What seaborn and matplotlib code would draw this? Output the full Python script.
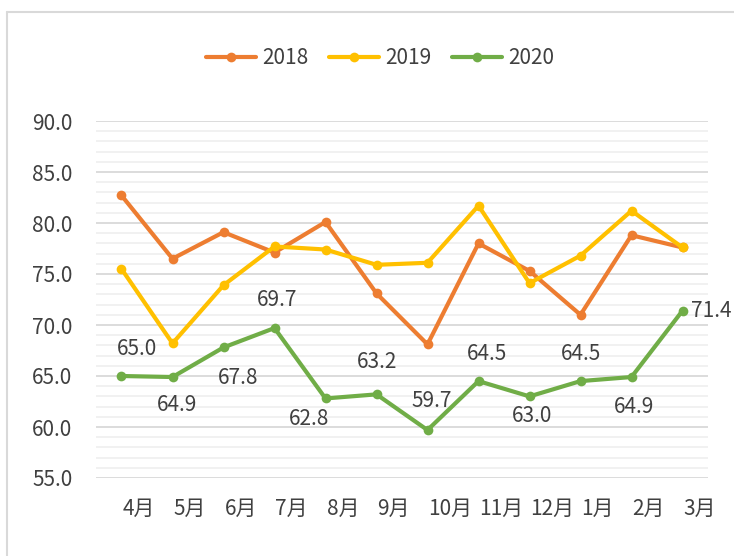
import matplotlib
matplotlib.use("Agg")
import matplotlib.pyplot as plt
import matplotlib.transforms as mtransforms
from matplotlib.lines import Line2D
from matplotlib.ticker import MultipleLocator
import pandas as pd
import seaborn as sns

# ---- data -------------------------------------------------------------
months = ["4月", "5月", "6月", "7月", "8月", "9月", "10月", "11月", "12月", "1月", "2月", "3月"]
years = ["2018", "2019", "2020"]
v2018 = [82.7, 76.5, 79.1, 77.1, 80.1, 73.1, 68.1, 78.0, 75.3, 71.0, 78.8, 77.6]
v2019 = [75.5, 68.2, 73.9, 77.7, 77.4, 75.9, 76.1, 81.7, 74.1, 76.8, 81.2, 77.6]
v2020 = [65.0, 64.9, 67.8, 69.7, 62.8, 63.2, 59.7, 64.5, 63.0, 64.5, 64.9, 71.4]

_COLORS = {"2018": "#ED7D31", "2019": "#FFC000", "2020": "#70AD47"}
_TEXT = "#404040"
_FONT = ["Noto Sans CJK SC", "DejaVu Sans"]
_FS = 15

# label offsets (pixels) for the 2020 data labels, as placed in the reference
_LABEL_OFFSETS = [(16, 27), (5, -28), (15, -31), (3, 28), (-16, -21), (1, 32),
                  (4, 29), (8, 27), (3, -20), (1, 27), (3, -30), (9, 0)]

df = pd.DataFrame({
    "month": months * 3,
    "year": [y for y in years for _ in months],
    "value": v2018 + v2019 + v2020,
})

sns.set_theme(style="white")
plt.rcParams["font.family"] = _FONT

fig = plt.figure(figsize=(7.34, 5.56), dpi=100)
ax = fig.add_axes([96 / 734, 1 - 478 / 556, 612 / 734, 357 / 556])

sns.lineplot(
    data=df, x="month", y="value", hue="year", palette=_COLORS,
    marker="o", markersize=7, markeredgewidth=0, linewidth=3,
    sort=False, ax=ax, legend=False,
)

ax.set_xlim(-0.5, len(months) - 0.5)
ax.set_ylim(55, 90)
ax.yaxis.set_major_locator(MultipleLocator(5))
ax.yaxis.set_minor_locator(MultipleLocator(1))
ax.grid(which="major", axis="y", color="#D9D9D9", linewidth=1.3)
ax.grid(which="minor", axis="y", color="#F0F0F0", linewidth=1.3)
ax.grid(which="major", axis="x", visible=False)
ax.set_axisbelow(True)
for s in ax.spines.values():
    s.set_visible(False)

ax.set_xlabel("")
ax.set_ylabel("")
ax.set_yticks(range(55, 91, 5))
ax.set_yticklabels([f"{t:.1f}" for t in range(55, 91, 5)], fontsize=_FS, color=_TEXT)
ax.tick_params(axis="y", which="both", length=0, pad=17)
ax.set_xticks(range(len(months)))
ax.set_xticklabels(months, fontsize=_FS, color=_TEXT, ha="left")
ax.tick_params(axis="x", length=0, pad=14)
shift = mtransforms.ScaledTranslation(1 / 100, 0, fig.dpi_scale_trans)
for lbl in ax.get_xticklabels():
    lbl.set_transform(lbl.get_transform() + shift)

# data labels on the 2020 series
for i, (val, off) in enumerate(zip(v2020, _LABEL_OFFSETS)):
    ax.annotate(
        f"{val:.1f}", xy=(i, val), xytext=off, textcoords="offset pixels",
        ha="left" if i == len(v2020) - 1 else "center", va="center",
        fontsize=_FS, color=_TEXT,
    )

handles = [
    Line2D([], [], color=_COLORS[y], linewidth=3, marker="o", markersize=7,
           markeredgewidth=0)
    for y in years
]
fig.legend(
    handles, years, loc="center", bbox_to_anchor=(0.518, 0.896), ncol=3,
    frameon=False, fontsize=_FS, handlelength=2.4, handletextpad=0.3,
    columnspacing=1.0, labelcolor=_TEXT,
)

# chart-area border (left and top edges visible in the reference)
fig.add_artist(Line2D([7 / 734, 7 / 734], [0, 1 - 12 / 556],
                      transform=fig.transFigure, color="#D9D9D9", linewidth=1.5))
fig.add_artist(Line2D([7 / 734, 1], [1 - 12 / 556, 1 - 12 / 556],
                      transform=fig.transFigure, color="#D9D9D9", linewidth=1.5))

fig.savefig("out.png", dpi=100)
plt.close(fig)
